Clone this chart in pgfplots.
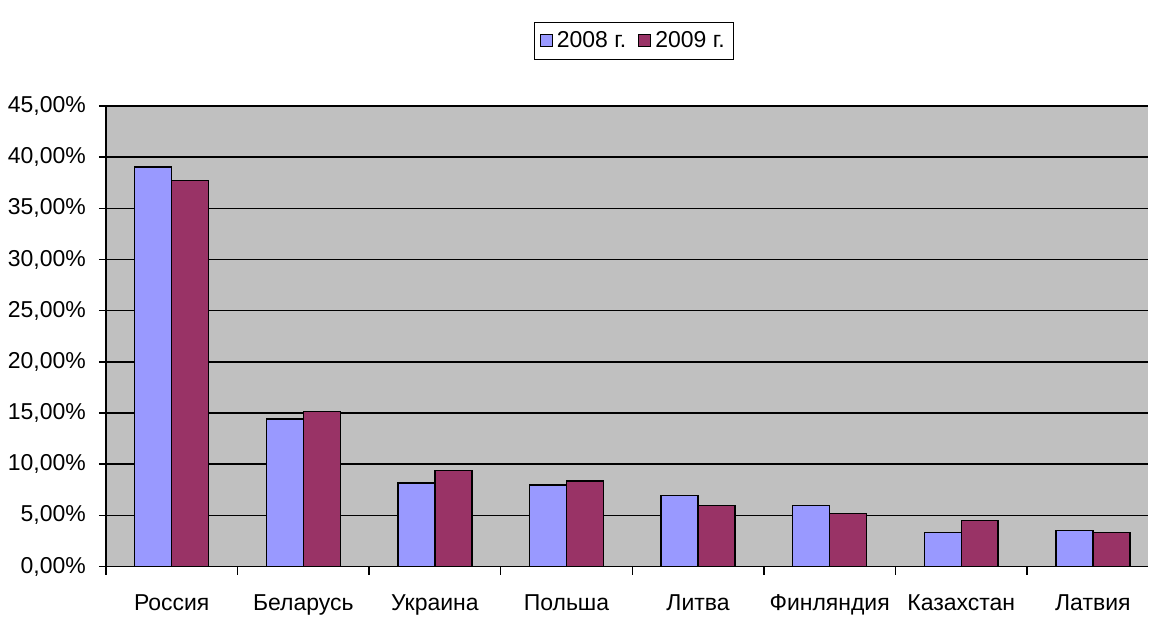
\documentclass[border=0pt]{standalone}
\usepackage{pgfplots}
\pgfplotsset{compat=1.18}
\usepackage{fontspec}
\setmainfont{Liberation Sans}
\definecolor{cA}{HTML}{9999FF}
\definecolor{cB}{HTML}{993366}
\definecolor{bg}{HTML}{C0C0C0}
\begin{document}
\begin{tikzpicture}
\begin{axis}[
  scale only axis,
  width=521.5pt, height=230.5pt,
  xmin=-0.5, xmax=7.42,
  ymin=0, ymax=45,
  ybar=0pt, bar width=18.5pt,
  axis background/.style={fill=bg},
  axis x line*=bottom, axis y line*=left,
  axis line style={black, line width=0.9pt, -},
  xtick={0,...,7},
  xticklabels={Россия,Беларусь,Украина,Польша,Литва,Финляндия,Казахстан,Латвия},
  minor xtick={-0.5,0.5,...,6.5},
  major x tick style={draw=none},
  minor x tick style={black, line width=0.7pt},
  minor tick length=4pt,
  ytick={0,5,...,45},
  yticklabels={{0,00\%},{5,00\%},{10,00\%},{15,00\%},{20,00\%},{25,00\%},{30,00\%},{35,00\%},{40,00\%},{45,00\%}},
  y tick style={black, line width=0.7pt},
  major tick length=3.5pt,
  tick align=outside,
  ymajorgrids,
  grid style={black, line width=0.75pt},
  tick label style={font=\fontsize{11.5}{12}\selectfont},
  xticklabel style={yshift=-7pt},
  yticklabel style={xshift=-3pt},
  legend columns=2,
  legend style={at={(0.507,1.141)}, anchor=center, draw=black, line width=0.6pt,
    font=\fontsize{11.5}{12}\selectfont, inner sep=2.5pt,
    /tikz/every even column/.append style={column sep=4pt}},
  legend image code/.code={\draw[#1, line width=0.5pt] (0pt,-3pt) rectangle (6pt,3pt);},
]
\addplot[fill=cA, draw=black, line width=0.75pt] coordinates {
(0,39.04) (1,14.41) (2,8.18) (3,7.98) (4,6.96) (5,5.98) (6,3.33) (7,3.53)};
\addplot[fill=cB, draw=black, line width=0.75pt] coordinates {
(0,37.72) (1,15.17) (2,9.37) (3,8.38) (4,5.98) (5,5.20) (6,4.50) (7,3.33)};
\legend{2008 г.,2009 г.}
\end{axis}
\useasboundingbox (current axis.south west) ++(-53pt,-24pt) rectangle ++(574.5pt,307.5pt);
\end{tikzpicture}
\end{document}
